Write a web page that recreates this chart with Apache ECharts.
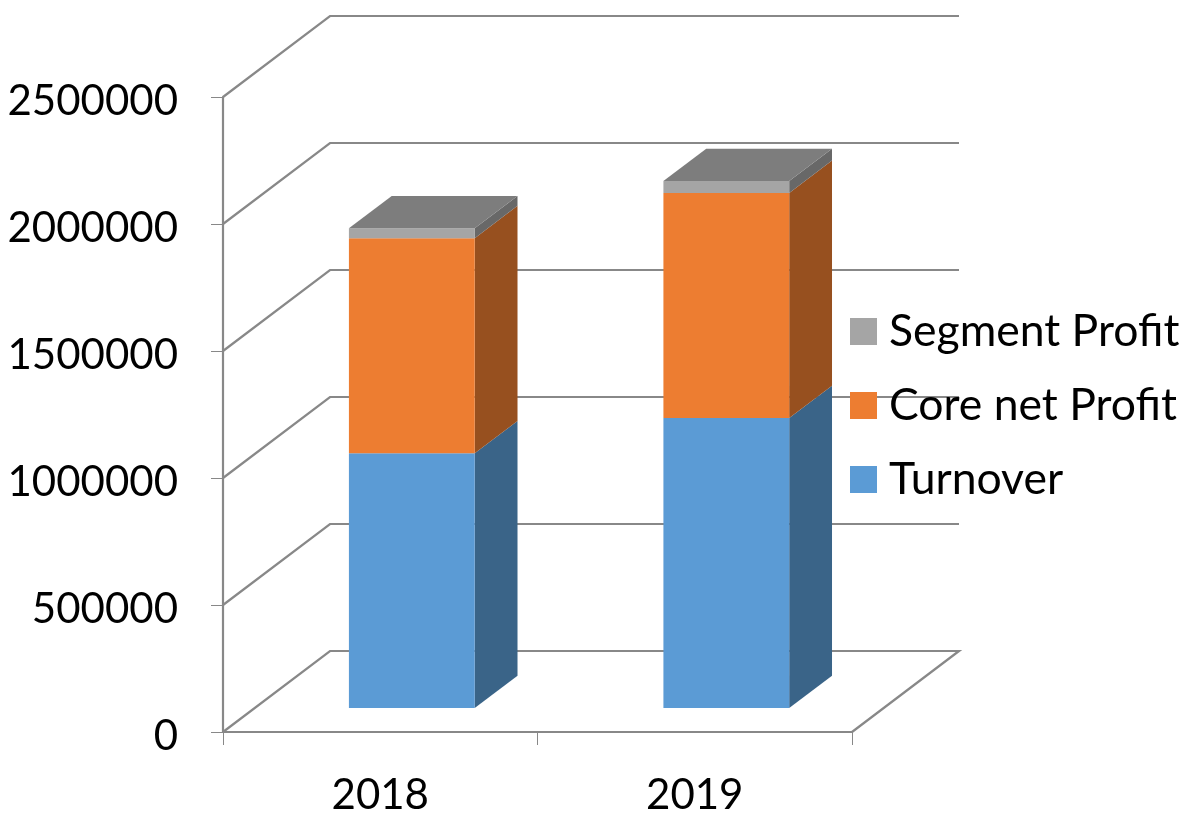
<!DOCTYPE html>
<html>
<head>
<meta charset="utf-8">
<style>html,body{margin:0;padding:0;background:#fff}#c{width:1188px;height:818px}</style>
<script src="https://cdn.jsdelivr.net/npm/echarts@6/dist/echarts.min.js"></script>
</head>
<body>
<div id="c"></div>
<script>
const categories = ['2018', '2019'];
const turnover = [1003000, 1142000];
const coreNetProfit = [847000, 886000];
const segmentProfit = [39000, 47000];
const yTicks = [0, 500000, 1000000, 1500000, 2000000, 2500000];

const FONT = 'Lato';
const LINE = '#888888';
const DX = 107, DY = 81;          // full floor depth in pixels
const FRONT = 0.295, DEEP = 0.4;  // bar position and thickness as share of the floor depth
const BAR = 0.4;                  // bar width as share of the category band

function stackRows(values, below) {
  return values.map((v, i) => {
    const base = below.reduce((s, arr) => s + arr[i], 0);
    return [i, base, base + v];
  });
}

function barRenderer(sideColor, withTop) {
  return function (params, api) {
    const i = api.value(0);
    const low = api.coord([i, api.value(1)]);
    const high = api.coord([i, api.value(2)]);
    const w = api.size([1, 0])[0] * BAR;
    const ox = DX * FRONT, oy = DY * FRONT;
    const dx = DX * DEEP, dy = DY * DEEP;
    const xl = low[0] - w / 2 + ox, xr = low[0] + w / 2 + ox;
    const yb = low[1] - oy, yt = high[1] - oy;
    const children = [
      { type: 'polygon', shape: { points: [[xr, yb], [xr + dx, yb - dy], [xr + dx, yt - dy], [xr, yt]] },
        style: { fill: sideColor } },
      { type: 'polygon', shape: { points: [[xl, yb], [xr, yb], [xr, yt], [xl, yt]] },
        style: { fill: api.visual('color') } }
    ];
    if (withTop) {
      children.push({ type: 'polygon', shape: { points: [[xl, yt], [xr, yt], [xr + dx, yt - dy], [xl + dx, yt - dy]] },
        style: { fill: '#7d7d7d' } });
    }
    return { type: 'group', children };
  };
}

function wallRenderer(params, api) {
  const v = api.value(0);
  const sys = params.coordSys;
  const y = api.coord([0, v])[1];
  const x0 = sys.x, x1 = sys.x + sys.width;
  const pts = [[x0, y], [x0 + DX, y - DY], [x1 + DX, y - DY]];
  if (v === yTicks[0]) pts.push([x1, y]);
  return { type: 'polyline', shape: { points: pts },
    style: { stroke: LINE, lineWidth: 2.2, fill: null } };
}

const chart = echarts.init(document.getElementById('c'), null, { renderer: 'canvas' });
chart.setOption({
  animation: false,
  backgroundColor: '#fff',
  grid: { left: 223, right: 336, top: 97, bottom: 86, outerBoundsMode: 'none' },
  legend: {
    orient: 'vertical', left: 850, top: 309, padding: 0,
    itemWidth: 27, itemHeight: 27, itemGap: 29,
    icon: 'rect',
    data: ['Segment Profit', 'Core net Profit', 'Turnover'],
    textStyle: { fontFamily: FONT, fontSize: 44.5, color: '#000', padding: [0, 0, 0, 7] }
  },
  xAxis: {
    type: 'category', data: categories,
    axisLine: { show: true, lineStyle: { color: LINE, width: 2.2 } },
    axisTick: { show: true, length: 13, lineStyle: { color: LINE, width: 1 } },
    axisLabel: { fontFamily: FONT, fontSize: 42, color: '#000', margin: 42 },
    splitLine: { show: false }
  },
  yAxis: {
    type: 'value', min: 0, max: 2500000, interval: 500000,
    axisLine: { show: true, lineStyle: { color: LINE, width: 2.2 } },
    axisTick: { show: true, length: 12, lineStyle: { color: LINE, width: 1 } },
    axisLabel: { fontFamily: FONT, fontSize: 42, color: '#000', margin: 45, verticalAlign: 'top', lineHeight: 8, formatter: v => String(v) },
    splitLine: { show: false }
  },
  series: [
    { type: 'custom', silent: true, z: 1, clip: false, renderItem: wallRenderer,
      data: yTicks.map(v => [v]), encode: { y: 0 } },
    { name: 'Turnover', type: 'custom', z: 3, clip: false,
      itemStyle: { color: '#5b9bd5' }, renderItem: barRenderer('#3a6488', false),
      data: stackRows(turnover, []), encode: { x: 0, y: 2 } },
    { name: 'Core net Profit', type: 'custom', z: 3, clip: false,
      itemStyle: { color: '#ed7d31' }, renderItem: barRenderer('#97501f', false),
      data: stackRows(coreNetProfit, [turnover]), encode: { x: 0, y: 2 } },
    { name: 'Segment Profit', type: 'custom', z: 3, clip: false,
      itemStyle: { color: '#a5a5a5' }, renderItem: barRenderer('#686868', true),
      data: stackRows(segmentProfit, [turnover, coreNetProfit]), encode: { x: 0, y: 2 } }
  ]
});
</script>
</body>
</html>
